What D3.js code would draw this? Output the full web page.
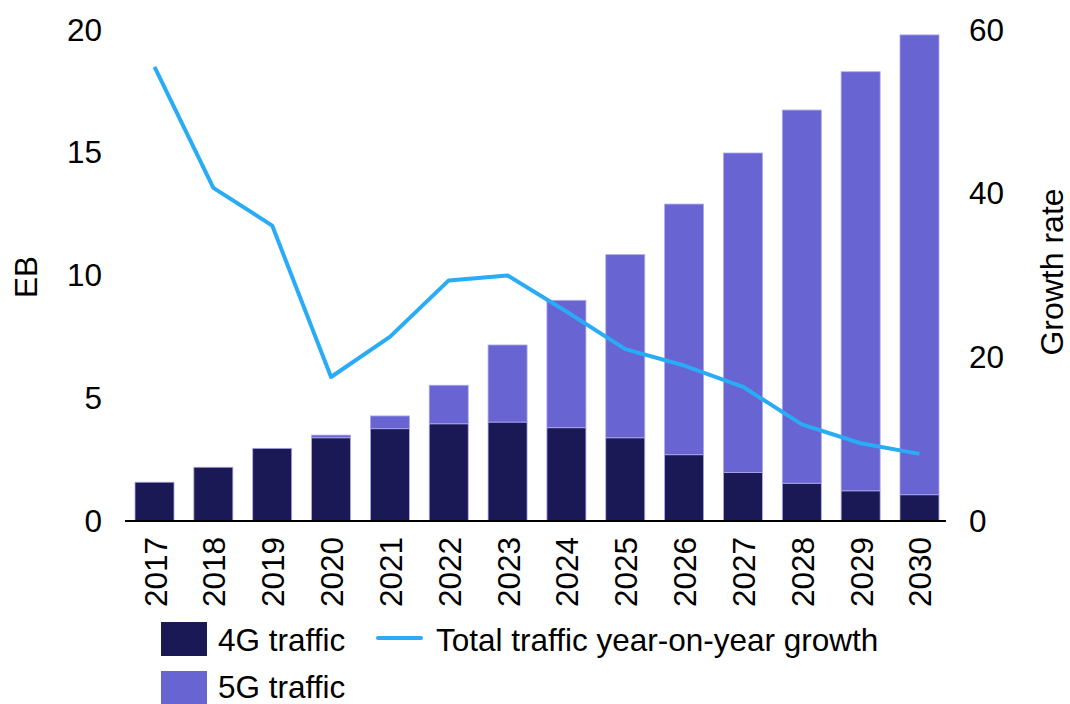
<!DOCTYPE html>
<html>
<head>
<meta charset="utf-8">
<script src="https://cdn.jsdelivr.net/npm/d3@7"></script>
<style>
  html, body { margin: 0; padding: 0; background: #fff; }
  svg { display: block; font-family: "Liberation Sans", Arial, sans-serif; }
</style>
</head>
<body>
<svg id="chart" width="1070" height="704"></svg>
<script>
// Mobile data traffic (EB) by technology, with total year-on-year growth (%)
const years = ["2017","2018","2019","2020","2021","2022","2023","2024","2025","2026","2027","2028","2029","2030"];
const traffic4G = [1.58, 2.19, 2.96, 3.39, 3.76, 3.96, 4.03, 3.80, 3.39, 2.70, 1.98, 1.54, 1.23, 1.07];
const traffic5G = [0.00, 0.00, 0.00, 0.11, 0.52, 1.57, 3.14, 5.19, 7.46, 10.21, 13.01, 15.20, 17.07, 18.73];
const growth    = [55.5, 40.7, 36.1, 17.6, 22.5, 29.4, 30.0, 25.6, 21.0, 19.0, 16.4, 11.8, 9.5, 8.2];
const leftTicks  = [0, 5, 10, 15, 20];
const rightTicks = [0, 20, 40, 60];

const colors = { g4: "#1b1856", g5: "#6864d2", line: "#29abf6" };
const FS = 31.5;

const svg = d3.select("#chart");

const x = d3.scaleBand().domain(years).range([125, 949]).paddingInner(0.337).paddingOuter(0.17);
const yL = d3.scaleLinear().domain([0, 20]).range([521, 30]);
const yR = d3.scaleLinear().domain([0, 60]).range([521, 30]);

// stacked bars
const rows = years.map((yr, i) => ({ year: yr, g4: traffic4G[i], g5: traffic5G[i] }));
const stack = d3.stack().keys(["g4", "g5"])(rows);

svg.append("g").selectAll("g").data(stack).join("g")
  .attr("fill", d => colors[d.key])
  .selectAll("rect").data(d => d.filter(s => s[1] - s[0] > 0)).join("rect")
  .attr("x", d => x(d.data.year))
  .attr("width", x.bandwidth())
  .attr("y", d => yL(d[1]))
  .attr("height", d => yL(d[0]) - yL(d[1]))
  .attr("stroke", "#aeabec")
  .attr("stroke-width", 0.8);

// growth line
const line = d3.line()
  .x((d, i) => x(years[i]) + x.bandwidth() / 2)
  .y(d => yR(d));
svg.append("path").datum(growth)
  .attr("d", line)
  .attr("fill", "none")
  .attr("stroke", colors.line)
  .attr("stroke-width", 4)
  .attr("stroke-linejoin", "round");

// baseline
svg.append("line")
  .attr("x1", 125).attr("x2", 946)
  .attr("y1", yL(0)).attr("y2", yL(0))
  .attr("stroke", "#000").attr("stroke-width", 2);

// left axis
const leftAxis = d3.axisLeft(yL).tickValues(leftTicks).tickSize(0).tickPadding(0);
const gL = svg.append("g").attr("transform", "translate(102,0)").call(leftAxis);
gL.select(".domain").remove();
gL.selectAll("text").attr("font-size", FS).attr("fill", "#000")
  .attr("font-family", "Liberation Sans, Arial, sans-serif");

// right axis
const rightAxis = d3.axisRight(yR).tickValues(rightTicks).tickSize(0).tickPadding(0);
const gR = svg.append("g").attr("transform", "translate(969,0)").call(rightAxis);
gR.select(".domain").remove();
gR.selectAll("text").attr("font-size", FS).attr("fill", "#000")
  .attr("font-family", "Liberation Sans, Arial, sans-serif");

// year labels, rotated
const bottomAxis = d3.axisBottom(x).tickSize(0).tickPadding(0);
const gB = svg.append("g").attr("transform", `translate(0,${yL(0)})`).call(bottomAxis);
gB.select(".domain").remove();
gB.selectAll("text")
  .attr("font-size", FS).attr("fill", "#000")
  .attr("font-family", "Liberation Sans, Arial, sans-serif")
  .attr("text-anchor", "end")
  .attr("dy", null)
  .attr("dominant-baseline", "central")
  .attr("transform", "translate(1,16) rotate(-90)");

// axis titles
svg.append("text").text("EB")
  .attr("transform", "translate(26,277) rotate(-90)")
  .attr("text-anchor", "middle").attr("dominant-baseline", "central")
  .attr("font-size", FS).attr("fill", "#000");
svg.append("text").text("Growth rate")
  .attr("transform", "translate(1052,272) rotate(-90)")
  .attr("text-anchor", "middle").attr("dominant-baseline", "central")
  .attr("font-size", 32).attr("fill", "#000");

// legend
const legend = svg.append("g");
legend.append("rect").attr("x", 161).attr("y", 622).attr("width", 46).attr("height", 34).attr("fill", colors.g4);
legend.append("text").text("4G traffic").attr("x", 218).attr("y", 640)
  .attr("dominant-baseline", "central").attr("font-size", FS).attr("fill", "#000");
legend.append("rect").attr("x", 161).attr("y", 671).attr("width", 46).attr("height", 33).attr("fill", colors.g5);
legend.append("text").text("5G traffic").attr("x", 218).attr("y", 687)
  .attr("dominant-baseline", "central").attr("font-size", FS).attr("fill", "#000");
legend.append("line").attr("x1", 378).attr("x2", 421).attr("y1", 638).attr("y2", 638)
  .attr("stroke", colors.line).attr("stroke-width", 4).attr("stroke-linecap", "round");
legend.append("text").text("Total traffic year-on-year growth").attr("x", 436).attr("y", 640)
  .attr("dominant-baseline", "central").attr("font-size", FS).attr("fill", "#000");
</script>
</body>
</html>
